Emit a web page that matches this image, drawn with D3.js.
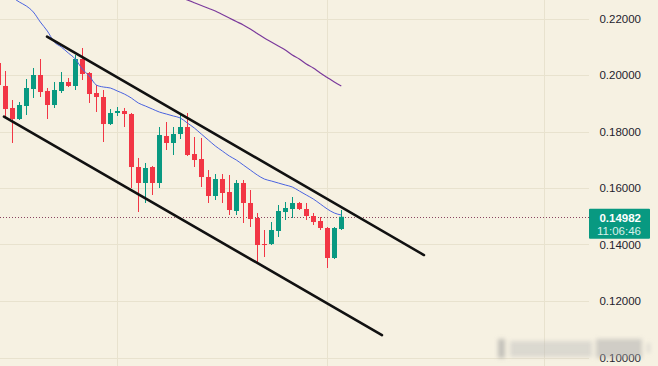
<!DOCTYPE html>
<html>
<head>
<meta charset="utf-8">
<script src="https://cdn.jsdelivr.net/npm/d3@7"></script>
<style>
  body { margin: 0; background: #f6f1e2; }
  svg { display: block; font-family: "Liberation Sans", Arial, sans-serif; }
</style>
</head>
<body>
<svg id="chart" width="658" height="366"></svg>
<script>
// candles start one bar left of the visible edge (index -1)
const firstIdx = -1;
const open = [0.20425, 0.19611, 0.18832, 0.18442, 0.18903, 0.19504, 0.20000, 0.19434, 0.18938, 0.19434,
  0.19752, 0.19611, 0.20566, 0.20071, 0.19363, 0.19221, 0.18265, 0.18655, 0.18726, 0.18619,
  0.16743, 0.16177, 0.16743, 0.16177, 0.17841, 0.17593, 0.17911, 0.18159, 0.17203, 0.17026,
  0.16389, 0.15717, 0.16318, 0.15858, 0.15186, 0.16177, 0.15469, 0.14938, 0.14017, 0.14017,
  0.14478, 0.15150, 0.15256, 0.15469, 0.15256, 0.15009, 0.14832, 0.14584, 0.13522, 0.14548];
const high = [0.20602, 0.20142, 0.19115, 0.19044, 0.19858, 0.20248, 0.20566, 0.19540, 0.19752, 0.20106,
  0.19894, 0.20708, 0.20956, 0.20106, 0.19646, 0.19469, 0.18796, 0.18867, 0.18832, 0.18655,
  0.17062, 0.16885, 0.16779, 0.18159, 0.18336, 0.18159, 0.18584, 0.18655, 0.17805, 0.17770,
  0.16637, 0.16495, 0.16495, 0.16460, 0.16283, 0.16283, 0.15929, 0.15115, 0.14513, 0.14796,
  0.15398, 0.15504, 0.15681, 0.15504, 0.15469, 0.15115, 0.14973, 0.14619, 0.14619, 0.15221];
const low = [0.19540, 0.18513, 0.17593, 0.18407, 0.18584, 0.19186, 0.19221, 0.18442, 0.18832, 0.19363,
  0.19575, 0.19469, 0.19823, 0.19009, 0.18690, 0.17628, 0.18230, 0.18549, 0.18159, 0.16000,
  0.15150, 0.15469, 0.15752, 0.16000, 0.17345, 0.17168, 0.17734, 0.17133, 0.16743, 0.16035,
  0.15469, 0.15575, 0.15469, 0.15044, 0.15044, 0.14761, 0.14619, 0.13345, 0.13557, 0.13982,
  0.14265, 0.14867, 0.14938, 0.15221, 0.14867, 0.14690, 0.14513, 0.13168, 0.13486, 0.14513];
const close = [0.19646, 0.18796, 0.18442, 0.18938, 0.19540, 0.20000, 0.19398, 0.18938, 0.19469, 0.19752,
  0.19611, 0.20566, 0.20035, 0.19327, 0.19221, 0.18265, 0.18655, 0.18726, 0.18619, 0.16743,
  0.16177, 0.16708, 0.16177, 0.17876, 0.17593, 0.17911, 0.18159, 0.17168, 0.16991, 0.16389,
  0.15717, 0.16318, 0.15823, 0.15221, 0.16177, 0.15469, 0.14902, 0.13982, 0.13982, 0.14513,
  0.15186, 0.15292, 0.15469, 0.15256, 0.15009, 0.14796, 0.14584, 0.13522, 0.14584, 0.14982];

// blue moving average, index 0..48
const maFastStart = 0;
const maFast = [0.23009, 0.22761, 0.22584, 0.22443, 0.22230, 0.21876, 0.21558, 0.21168, 0.20991, 0.20779,
  0.20566, 0.20212, 0.19965, 0.19646, 0.19575, 0.19540, 0.19434, 0.19327, 0.19186, 0.19009,
  0.18903, 0.18796, 0.18690, 0.18619, 0.18549, 0.18478, 0.18301, 0.18124, 0.17911, 0.17699,
  0.17487, 0.17310, 0.17133, 0.16991, 0.16814, 0.16637, 0.16460, 0.16318, 0.16248, 0.16177,
  0.16106, 0.16035, 0.15894, 0.15752, 0.15610, 0.15434, 0.15256, 0.15115, 0.15044];

// purple moving average, index 24..48
const maSlowStart = 24;
const maSlow = [0.22832, 0.22744, 0.22655, 0.22559, 0.22460, 0.22361, 0.22266, 0.22142, 0.22018, 0.21894,
  0.21770, 0.21628, 0.21469, 0.21310, 0.21168, 0.21027, 0.20885, 0.20708, 0.20566, 0.20389,
  0.20248, 0.20071, 0.19912, 0.19752, 0.19611];

// channel lines [index, price]
const upperLine = [[5.96, 0.21356], [59.81, 0.13628]];
const lowerLine = [[-0.19, 0.18524], [53.81, 0.10796]];

const priceTicks = [0.10, 0.12, 0.14, 0.16, 0.18, 0.20, 0.22];
const timeGrid = [16, 46, 77];
const lastPrice = 0.14982;
const lastTime = "11:06:46";

let width = 658, height = 366, plotRight = 589;
let svg = d3.select("#chart");

let x = d3.scaleLinear().domain([0, 48]).range([5.3, 341.3]);
let y = d3.scaleLinear().domain([0.10, 0.22]).range([357.5, 18.5]);

let candles = open.map((o, k) => ({ i: firstIdx + k, o: o, h: high[k], l: low[k], c: close[k] }));

const up = "#089981", down = "#f23645";

svg.append("rect").attr("width", width).attr("height", height).attr("fill", "#f6f1e2");

svg.append("defs").append("clipPath").attr("id", "plot")
  .append("rect").attr("width", plotRight).attr("height", height);

let grid = svg.append("g").attr("stroke", "#e8e2ce").attr("stroke-width", 1);
grid.selectAll(".h").data(priceTicks).join("line")
  .attr("x1", 0).attr("x2", plotRight)
  .attr("y1", d => Math.round(y(d)) + 0.5).attr("y2", d => Math.round(y(d)) + 0.5);
grid.selectAll(".v").data(timeGrid).join("line")
  .attr("y1", 0).attr("y2", height)
  .attr("x1", d => Math.round(x(d)) + 0.5).attr("x2", d => Math.round(x(d)) + 0.5);

let plot = svg.append("g").attr("clip-path", "url(#plot)");

// last price dotted line
plot.append("line")
  .attr("x1", 0).attr("x2", plotRight)
  .attr("y1", Math.round(y(lastPrice)) + 0.5).attr("y2", Math.round(y(lastPrice)) + 0.5)
  .attr("stroke", "#8a4560").attr("stroke-width", 1).attr("stroke-dasharray", "1,2");

// candles
let bars = plot.append("g").selectAll("g").data(candles).join("g");
bars.append("line")
  .attr("x1", d => Math.round(x(d.i)) + 0.5).attr("x2", d => Math.round(x(d.i)) + 0.5)
  .attr("y1", d => y(d.h)).attr("y2", d => y(d.l))
  .attr("stroke", d => d.c >= d.o ? up : down).attr("stroke-width", 1);
bars.append("rect")
  .attr("x", d => Math.round(x(d.i)) - 2)
  .attr("width", 5)
  .attr("y", d => y(Math.max(d.o, d.c)))
  .attr("height", d => Math.max(1, Math.abs(y(d.o) - y(d.c))))
  .attr("fill", d => d.c >= d.o ? up : down);

// moving averages
let line = d3.line().x(d => x(d[0])).y(d => y(d[1])).curve(d3.curveMonotoneX);
plot.append("path")
  .datum(maFast.map((v, k) => [maFastStart + k, v]))
  .attr("d", line).attr("fill", "none").attr("stroke", "#4a63e0").attr("stroke-width", 1);
plot.append("path")
  .datum(maSlow.map((v, k) => [maSlowStart + k, v]))
  .attr("d", line).attr("fill", "none").attr("stroke", "#7b3a9c").attr("stroke-width", 1.2);

// channel
[upperLine, lowerLine].forEach(function (seg) {
  plot.append("line")
    .attr("x1", x(seg[0][0])).attr("y1", y(seg[0][1]))
    .attr("x2", x(seg[1][0])).attr("y2", y(seg[1][1]))
    .attr("stroke", "#111").attr("stroke-width", 2.6).attr("stroke-linecap", "round");
});

// price scale
svg.append("g").selectAll("text").data(priceTicks).join("text")
  .attr("x", 641).attr("y", d => y(d) + 4)
  .attr("text-anchor", "end")
  .attr("font-size", 11.5)
  .attr("fill", "#1e222d")
  .text(d => d3.format(".5f")(d));

// blurred watermark
let blur = svg.append("defs").append("filter").attr("id", "blur")
  .attr("x", "-20%").attr("y", "-50%").attr("width", "140%").attr("height", "200%");
blur.append("feGaussianBlur").attr("stdDeviation", 2.2);
let wm = svg.append("g").attr("filter", "url(#blur)");
wm.append("rect").attr("x", 498).attr("y", 339).attr("width", 7).attr("height", 19).attr("fill", "#999").attr("opacity", 0.55);
wm.append("rect").attr("x", 510).attr("y", 341).attr("width", 82).attr("height", 16).attr("fill", "#bbb").attr("opacity", 0.45);
wm.append("rect").attr("x", 596).attr("y", 339).attr("width", 46).attr("height", 19).attr("fill", "#aaa").attr("opacity", 0.5);
wm.append("rect").attr("x", 647).attr("y", 343).attr("width", 3).attr("height", 10).attr("fill", "#bbb").attr("opacity", 0.5);

// last price label
let ly = y(lastPrice);
svg.append("rect")
  .attr("x", 589).attr("y", ly - 8).attr("width", 61).attr("height", 30)
  .attr("rx", 1).attr("fill", up);
svg.append("text").attr("x", 641).attr("y", ly + 5.5)
  .attr("text-anchor", "end").attr("font-size", 11.5).attr("font-weight", "bold")
  .attr("fill", "#ffffff").text(d3.format(".5f")(lastPrice));
svg.append("text").attr("x", 641).attr("y", ly + 18)
  .attr("text-anchor", "end").attr("font-size", 11.5)
  .attr("fill", "#d8f0ea").text(lastTime);
</script>
</body>
</html>
